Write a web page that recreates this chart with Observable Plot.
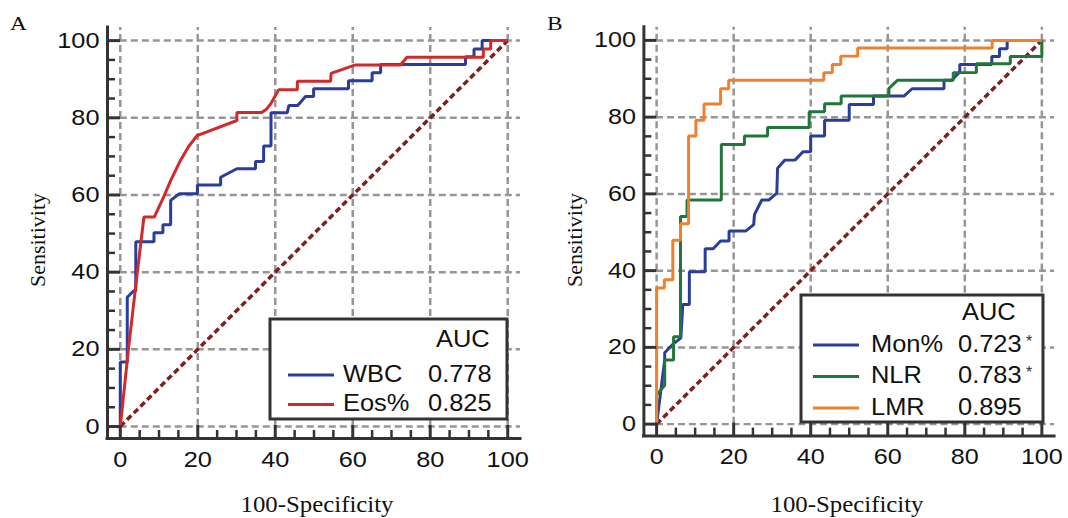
<!DOCTYPE html>
<html>
<head>
<meta charset="utf-8">
<script src="https://cdn.jsdelivr.net/npm/d3@7"></script>
<script src="https://cdn.jsdelivr.net/npm/@observablehq/plot@0.6"></script>
<style>
  body { margin: 0; background: #fff; }
  #wrap { position: relative; width: 1068px; height: 518px; overflow: hidden; background: #fff; }
  .panel { position: absolute; top: 0; }
  #overlay { position: absolute; left: 0; top: 0; pointer-events: none; }
</style>
</head>
<body>
<div id="wrap">
  <div class="panel" id="pA" style="left:0px"></div>
  <div class="panel" id="pB" style="left:537px"></div>
</div>
<script>
// ---------- data ----------
const majorTicks = [0, 20, 40, 60, 80, 100];
const minorTicks = [5, 10, 15, 25, 30, 35, 45, 50, 55, 65, 70, 75, 85, 90, 95];
const diagonal = [[0, 0], [100, 100]];

// Panel A : [100-Specificity, Sensitivity]
const wbc = [[0,0],[0,16.7],[1.8,16.7],[1.8,33.5],[3.5,35.2],[4,35.2],[4,47.9],[8.7,47.9],[8.7,50.2],[11,50.2],[11,52.3],[13,52.3],[13,58.6],[15.2,60.3],[19.9,60.3],[19.9,62.6],[25.9,62.6],[25.9,64.6],[30.1,66.8],[34.9,66.8],[34.9,68.7],[37,68.7],[37,72.7],[38.9,72.7],[38.9,81.3],[43.1,81.3],[43.5,83.2],[45.8,83.2],[47.8,85.5],[49.9,85.5],[49.9,87.5],[58.9,87.5],[58.9,89.6],[65,89.6],[65,91.7],[67.2,91.7],[67.2,93.8],[89.1,93.8],[89.1,95.8],[91.3,95.8],[91.3,97.8],[93.4,97.8],[93.4,100],[100,100]];
const eos = [[0,0],[2.1,20],[4.4,40],[6.1,54.3],[8.8,54.3],[11.2,59.5],[13,63.7],[15.5,68.9],[17.6,72.5],[19.8,75.4],[30.1,79.3],[30.1,81.4],[36.5,81.4],[37.8,82.3],[38.8,83.6],[40.9,87.3],[45.7,87.3],[45.7,89.5],[54.3,89.5],[54.4,91.5],[60.7,93.7],[72.3,93.7],[74,95.7],[93.7,95.7],[93.7,97.8],[95.6,97.8],[95.6,100],[100,100]];

// Panel B
const mon = [[0,0],[2.1,16.7],[2.1,18.6],[4.2,20.8],[6.3,22.5],[6.8,31.2],[8.5,31.2],[8.5,39.7],[12.6,39.7],[12.6,45.7],[14.7,45.7],[16.6,47.7],[18.8,47.7],[18.8,50.3],[23.1,50.3],[25.2,52],[25.4,54.6],[27.3,58.4],[29.1,58.4],[31.2,60.2],[31.4,66.7],[33.3,68.8],[35.9,68.8],[38,71],[40,71],[40,75.1],[43.6,75.1],[43.6,79.2],[50,79.2],[50,83.3],[56.3,83.3],[56.3,85.5],[64.2,85.5],[66.3,87.4],[74.6,87.4],[74.6,89.6],[76.6,89.6],[78.7,91.8],[78.7,93.7],[87,93.7],[87,95.8],[89,95.8],[89,97.8],[91,97.8],[91,100],[100,100]];
const nlr = [[0,0],[0,7.6],[2.1,10.1],[2.1,16.7],[4.4,16.7],[4.4,22.8],[6.2,22.8],[6.2,54.1],[7.9,54.1],[7.9,58.4],[16.8,58.4],[16.8,72.9],[22.8,72.9],[22.8,75.1],[28.8,75.1],[28.8,77.3],[39.6,77.3],[39.6,81.4],[43.6,81.4],[43.6,83.5],[47.9,83.5],[47.9,85.5],[60.3,85.5],[60.3,87.5],[62.5,89.6],[77,89.6],[77,91.6],[83,91.6],[83,93.9],[91.8,93.9],[91.8,95.8],[100,95.8],[100,100]];
const lmr = [[0,0],[0,35.5],[2,35.5],[2,37.6],[4.2,37.6],[4.2,47.9],[6.2,47.9],[6.2,52.2],[8.3,52.2],[8.3,75.1],[10.2,75.1],[10.2,79.2],[12.3,79.2],[12.3,83.4],[16.6,83.4],[16.6,87.4],[18.7,87.4],[18.7,89.6],[43.4,89.6],[43.4,91.6],[45.6,91.6],[45.6,93.7],[47.8,93.7],[47.8,95.9],[52.2,95.9],[52.2,98],[87.1,98],[87.1,100],[100,100]];

const seriesA = [
  {name: "WBC",  auc: "0.778", star: false, color: "#2b3d9c", data: wbc},
  {name: "Eos%", auc: "0.825", star: false, color: "#d02a2a", data: eos}
];
const seriesB = [
  {name: "Mon%", auc: "0.723", star: true,  color: "#2b3d9c", data: mon},
  {name: "NLR",  auc: "0.783", star: true,  color: "#217638", data: nlr},
  {name: "LMR",  auc: "0.895", star: false, color: "#f0802c", data: lmr}
];

// ---------- styling ----------
const X_DOMAIN = [-3.3, 103.3];
const Y_DOMAIN = [-3.1, 103.4];
const AXIS = "#333";
const GRID = "#969696";
const TICK_FONT = 22;

// the reference's lettering is slightly wide: stretch text horizontally about its anchor
function stretchText(node, s) {
  node.querySelectorAll("text").forEach(t => {
    const xs = t.getAttribute("x");
    let ax = 0;
    if (xs) ax = xs.trim().endsWith("em") ? parseFloat(xs) * TICK_FONT : parseFloat(xs) || 0;
    const tr = t.getAttribute("transform") || "";
    t.setAttribute("transform", `${tr} translate(${ax},0) scale(${s},1) translate(${-ax},0)`);
  });
}

function rocPanel(series) {
  const [xlo, xhi] = X_DOMAIN, [ylo, yhi] = Y_DOMAIN;
  const chart = Plot.plot({
    width: 534, height: 518,
    marginLeft: 107, marginRight: 14, marginTop: 27, marginBottom: 80,
    x: {domain: X_DOMAIN},
    y: {domain: Y_DOMAIN},
    style: {background: "transparent", fontFamily: "'Liberation Sans', Arial, sans-serif", fontSize: TICK_FONT + "px", color: "#111", overflow: "visible"},
    marks: [
      // dashed grid
      Plot.ruleX(majorTicks, {x: d => d, y1: 0, y2: yhi, stroke: GRID, strokeWidth: 2.5, strokeDasharray: "7,4"}),
      Plot.ruleY(majorTicks, {y: d => d, x1: 0, x2: xhi, stroke: GRID, strokeWidth: 2.5, strokeDasharray: "7,4"}),
      // reference diagonal
      Plot.line(diagonal, {x: d => d[0], y: d => d[1], stroke: "#7e2020", strokeWidth: 3.5, strokeDasharray: "6,3.5", strokeLinecap: "butt"}),
      // ROC curves
      ...series.map(s => Plot.line(s.data, {x: d => d[0], y: d => d[1], stroke: s.color, strokeWidth: 3, strokeLinejoin: "miter", strokeLinecap: "butt"})),
      // axis lines
      Plot.ruleX([xlo], {stroke: AXIS, strokeWidth: 3, strokeLinecap: "square"}),
      Plot.ruleY([ylo], {stroke: AXIS, strokeWidth: 3, strokeLinecap: "square"}),
      // inward ticks
      Plot.ruleY(majorTicks, {y: d => d, x1: xlo, x2: xlo, insetRight: -13, stroke: AXIS, strokeWidth: 3}),
      Plot.ruleY(minorTicks, {y: d => d, x1: xlo, x2: xlo, insetRight: -8, stroke: AXIS, strokeWidth: 2.5}),
      Plot.ruleX(majorTicks, {x: d => d, y1: ylo, y2: ylo, insetBottom: 13, stroke: AXIS, strokeWidth: 3}),
      Plot.ruleX(minorTicks, {x: d => d, y1: ylo, y2: ylo, insetBottom: 8, stroke: AXIS, strokeWidth: 2.5}),
      // tick labels
      Plot.axisX(majorTicks, {tickSize: 0, tickPadding: 13, label: null, fill: "#111"}),
      Plot.axisY(majorTicks, {tickSize: 0, tickPadding: 8, label: null, fill: "#111"})
    ]
  });
  stretchText(chart, 1.15);
  return chart;
}

document.getElementById("pA").appendChild(rocPanel(seriesA));
document.getElementById("pB").appendChild(rocPanel(seriesB));

// ---------- overlay: panel letters, axis titles, legends ----------
const svg = d3.select("#wrap").append("svg")
  .attr("id", "overlay").attr("width", 1068).attr("height", 518);

const serif = "'Liberation Serif', 'Times New Roman', serif";
const sans = "'Liberation Sans', Arial, sans-serif";

function label(x, y, txt, {font = sans, size = 24, anchor = "start", sx = 1.06, rotate = 0, fill = "#111"} = {}) {
  return svg.append("text")
    .attr("transform", `translate(${x},${y}) rotate(${rotate}) scale(${sx},1)`)
    .attr("text-anchor", anchor).attr("font-family", font).attr("font-size", size).attr("fill", fill)
    .text(txt);
}

const panels = [
  {letter: "A", ox: 0,   series: seriesA, box: {x: 270, y: 319, w: 237, h: 100}, aucY: 347, row0: 381.5, rowStep: 29.5, lineX: 288, nameX: 343, valX: 428, aucX: 436, titleX: 317},
  {letter: "B", ox: 537, series: seriesB, box: {x: 801, y: 295, w: 242, h: 127}, aucY: 320, row0: 351.5, rowStep: 31.5, lineX: 813, nameX: 871, valX: 958, aucX: 962, titleX: 847}
];

for (const p of panels) {
  label(p.ox + 10, 29.5, p.letter, {font: serif, size: 18, sx: 1.3});
  label(p.ox + 45, 240, "Sensitivity", {font: serif, size: 22, anchor: "middle", rotate: -90, sx: 1});
  label(p.titleX, 512, "100-Specificity", {font: serif, size: 23, anchor: "middle", sx: 1.08});

  const b = p.box;
  svg.append("rect").attr("x", b.x).attr("y", b.y).attr("width", b.w).attr("height", b.h)
    .attr("fill", "#fff").attr("stroke", AXIS).attr("stroke-width", 3);
  label(p.aucX, p.aucY, "AUC");
  p.series.forEach((s, i) => {
    const base = p.row0 + i * p.rowStep;
    svg.append("line").attr("x1", p.lineX).attr("x2", p.lineX + 46)
      .attr("y1", base - 6.5).attr("y2", base - 6.5)
      .attr("stroke", s.color).attr("stroke-width", 3);
    label(p.nameX, base, s.name);
    label(p.valX, base, s.auc);
    if (s.star) label(p.valX + 68, base - 5, "*", {size: 16, sx: 1, fill: "#333"});
  });
}
</script>
</body>
</html>
